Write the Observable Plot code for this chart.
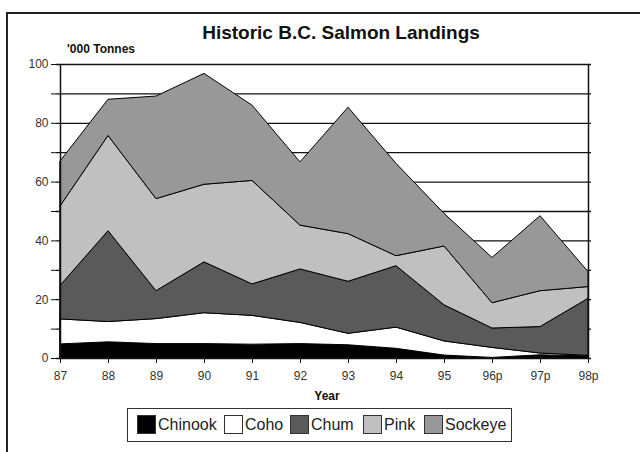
<!DOCTYPE html>
<html>
<head>
<meta charset="utf-8">
<script src="https://cdn.jsdelivr.net/npm/d3@7"></script>
<script src="https://cdn.jsdelivr.net/npm/@observablehq/plot@0.6"></script>
<style>
  html, body { margin: 0; padding: 0; background: #fff; }
  #wrap { position: relative; width: 640px; height: 452px; overflow: hidden; font-family: "Liberation Sans", Arial, sans-serif; }
  #frame { position: absolute; left: 6px; top: 12px; width: 700px; height: 500px; border-left: 2px solid #222; border-top: 2px solid #222; box-sizing: border-box; }
  #title { position: absolute; left: 0; width: 682px; top: 22px; text-align: center; font-weight: bold; font-size: 19px; color: #111; }
  #ylab { position: absolute; left: 67px; top: 42px; font-weight: bold; font-size: 12px; color: #111; }
  #xlab { position: absolute; left: 0; width: 654px; top: 389px; text-align: center; font-weight: bold; font-size: 12px; color: #111; }
  #legend { position: absolute; left: 127px; top: 408px; width: 385px; height: 34px; box-sizing: border-box; border: 1.5px solid #333; font-size: 16px; color: #222; }
  .item { position: absolute; top: 6px; display: flex; align-items: center; height: 19px; }
  .sw { width: 19px; height: 19px; box-sizing: border-box; border: 1.5px solid #333; margin-right: 2px; }
  svg { position: absolute; left: 0; top: 0; }
</style>
</head>
<body>
<div id="wrap">
  <div id="frame"></div>
  <div id="title">Historic B.C. Salmon Landings</div>
  <div id="ylab">'000 Tonnes</div>
  <div id="xlab">Year</div>
  <div id="legend"></div>
</div>
<script>
const years = ["87","88","89","90","91","92","93","94","95","96p","97p","98p"];
const species = ["Chinook","Coho","Chum","Pink","Sockeye"];
const colors = ["#000000","#ffffff","#5a5a5a","#c0c0c0","#989898"];
const chinook = [4.8,5.5,4.9,4.9,4.7,4.9,4.5,3.3,1.0,0.2,1.1,0.7];
const coho    = [8.5,6.9,8.5,10.5,9.8,7.2,3.9,7.2,4.8,3.4,0.6,0.2];
const chum    = [11.4,30.9,9.5,17.3,10.7,18.2,17.7,20.9,12.3,6.6,9.0,19.4];
const pink    = [27.0,32.4,31.3,26.4,35.2,14.9,16.2,3.4,20.0,8.6,12.2,4.0];
const sockeye = [15.3,12.3,34.9,37.7,25.6,21.5,43.0,31.4,11.1,15.4,25.5,5.1];
const yTicks = [0,10,20,30,40,50,60,70,80,90,100];

const series = [chinook, coho, chum, pink, sockeye];
const data = [];
species.forEach((s, i) => years.forEach((y, j) => data.push({year: y, species: s, value: series[i][j]})));

const chart = Plot.plot({
  width: 640,
  height: 452,
  marginLeft: 56,
  marginRight: 49,
  marginTop: 64,
  marginBottom: 94,
  style: {fontFamily: "'Liberation Sans', Arial, sans-serif", fontSize: "12px", color: "#333", background: "transparent"},
  x: {type: "point", domain: years, padding: 0, label: null},
  y: {domain: [0, 100], label: null},
  color: {domain: species, range: colors},
  marks: [
    Plot.ruleY(yTicks.filter(d => d > 0), {stroke: "#111", strokeWidth: 1.3}),
    Plot.areaY(data, {x: "year", y: "value", z: "species", fill: "species", order: species, stroke: "#000", strokeWidth: 1, strokeLinejoin: "round"}),
    Plot.ruleX([years[years.length - 1]], {stroke: "#111", strokeWidth: 1.5}),
    Plot.ruleX([years[0]], {stroke: "#111", strokeWidth: 1.5}),
    Plot.ruleY([0], {stroke: "#111", strokeWidth: 1.5}),
    Plot.axisY({ticks: yTicks, tickFormat: d => d % 20 === 0 ? String(d) : "", tickSize: 5, tickPadding: 3, stroke: "#111", fill: "#333", label: null}),
    Plot.axisX({ticks: years, tickSize: 5, tickPadding: 8, stroke: "#111", fill: "#333", label: null})
  ]
});
document.getElementById("wrap").appendChild(chart);

const legendLefts = [9, 96, 162, 235, 296];
const legend = document.getElementById("legend");
species.forEach((s, i) => {
  const item = document.createElement("div");
  item.className = "item";
  item.style.left = legendLefts[i] + "px";
  const sw = document.createElement("div");
  sw.className = "sw";
  sw.style.background = colors[i];
  const t = document.createElement("span");
  t.textContent = s;
  item.appendChild(sw);
  item.appendChild(t);
  legend.appendChild(item);
});
</script>
</body>
</html>
